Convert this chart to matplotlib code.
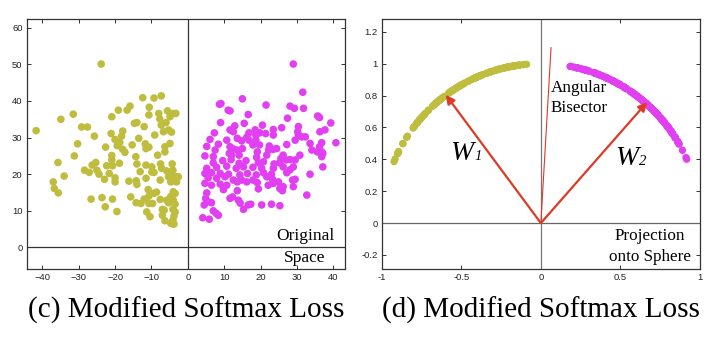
import numpy as np
import matplotlib
matplotlib.use('Agg')
import matplotlib.pyplot as plt

# class 1 (olive) features in original space
c1_x = [-23.8, -41.7, -34.9, -31.5, -35.7, -37.0, -36.7, -35.6, -34.0, -31.2, -30.3, -29.2, -27.6,
        -25.7, -26.6, -28.4, -27.1, -26.3, -25.3, -25.0, -24.4, -23.6, -22.9, -22.7, -22.3, -22.6,
        -21.6, -20.7, -20.9, -21.1, -20.9, -20.9, -20.7, -20.0, -20.0, -19.5, -19.1, -20.0, -19.4,
        -18.7, -18.2, -17.9, -18.8, -17.9, -17.3, -16.7, -15.9, -16.2, -15.7, -15.3, -14.7, -14.0,
        -14.3, -14.0, -14.2, -14.0, -14.2, -13.5, -13.1, -12.9, -12.4, -12.0, -12.0, -11.7, -11.5,
        -11.5, -11.5, -10.9, -10.7, -10.6, -10.7, -10.7, -10.7, -11.3, -10.4, -9.9, -9.9, -9.3,
        -9.3, -9.1, -9.3, -9.7, -8.6, -8.3, -8.0, -7.7, -7.5, -7.3, -7.3, -7.2, -7.6, -7.6, -7.0,
        -7.0, -6.7, -6.3, -6.3, -6.5, -6.3, -6.0, -5.8, -5.8, -5.6, -5.3, -5.3, -5.3, -4.9, -4.9,
        -4.9, -4.7, -4.7, -4.5, -4.3, -4.1, -4.1, -4.1, -4.1, -4.0, -4.0, -4.0, -3.8, -3.8, -3.8,
        -3.3, -3.5, -3.5, -3.1, -3.1, -2.6, -3.5, -4.0, -4.7]
c1_y = [50.1, 31.9, 35.0, 36.4, 23.2, 17.9, 16.1, 14.9, 19.5, 25.0, 28.3, 32.9, 32.9,
        30.4, 13.2, 21.1, 20.5, 22.5, 23.2, 21.1, 20.0, 13.6, 18.6, 11.1, 22.3, 27.4,
        20.2, 13.2, 35.7, 31.1, 25.1, 23.9, 22.3, 19.0, 17.9, 9.8, 37.5, 29.5, 27.8,
        28.7, 30.4, 31.8, 23.0, 26.8, 26.0, 37.5, 38.6, 18.1, 13.8, 28.0, 33.9, 34.1,
        24.8, 22.8, 18.2, 17.2, 12.2, 29.8, 20.7, 12.0, 40.9, 13.2, 33.0, 28.3, 27.0,
        22.5, 18.9, 15.8, 14.0, 38.3, 36.2, 27.4, 12.0, 9.7, 8.4, 22.0, 20.6, 40.8,
        20.5, 30.7, 14.8, 12.0, 15.1, 25.2, 36.6, 35.1, 22.8, 41.4, 33.4, 21.6, 13.1, 18.4, 10.4,
        8.8, 31.6, 27.5, 26.1, 10.2, 7.3, 34.1, 20.9, 12.9, 37.3, 32.1, 19.3, 12.2, 35.7, 28.4,
        20.3, 17.9, 13.9, 31.5, 22.8, 36.6, 21.1, 10.4, 7.5, 19.3, 15.2, 12.9, 18.2, 8.6, 6.4,
        36.6, 14.7, 11.8, 19.3, 17.9, 19.3, 9.7, 6.4, 6.6]

# class 2 (magenta) features in original space
c2_x = [29.0, 31.6, 31.8, 29.3, 28.1, 21.5, 15.0, 8.7, 9.1, 11.1, 11.6, 16.6, 27.4, 35.7, 36.2,
        39.3, 9.0, 15.5, 12.9, 20.5, 23.5, 25.8, 30.4, 37.7, 36.3, 7.3, 11.6, 12.5, 18.5, 16.8,
        19.8, 21.4, 23.5, 30.2, 30.4, 31.3, 6.1, 10.7, 13.6, 16.2, 18.7, 14.8, 18.7, 16.8, 27.2,
        29.5, 32.3, 40.7, 5.2, 8.4, 11.6, 19.7, 17.9, 22.4, 33.6, 36.8, 36.2, 7.5, 12.5, 13.6,
        15.0, 19.1, 22.2, 24.4, 23.5, 34.1, 35.6, 36.8, 4.7, 7.0, 11.4, 12.0, 14.1, 18.9, 21.7,
        25.6, 26.2, 30.8, 36.8, 37.1, 7.0, 9.6, 11.9, 14.1, 16.0, 19.4, 20.8, 23.7, 25.2, 27.0,
        28.1, 29.5, 37.1, 5.2, 7.9, 10.7, 13.3, 15.3, 17.9, 20.3, 23.5, 26.2, 29.0, 4.7, 6.5,
        8.9, 11.2, 14.3, 16.4, 18.8, 20.8, 23.0, 27.2, 28.1, 33.6, 5.6, 7.9, 10.2, 12.5, 13.6,
        14.8, 16.2, 17.9, 19.1, 21.7, 23.3, 24.9, 28.8, 29.5, 4.7, 6.5, 8.9, 10.7, 19.4, 22.1,
        23.5, 25.3, 26.0, 26.2, 29.0, 9.8, 5.2, 13.6, 4.9, 5.6, 6.5, 11.6, 12.3, 13.9, 14.4,
        16.6, 17.3, 20.3, 23.0, 25.3, 32.7, 4.5, 7.0, 7.8, 8.4, 15.3, 4.1, 5.9]
c2_y = [50.1, 42.4, 38.0, 38.0, 38.6, 38.9, 40.6, 39.1, 39.3, 37.5, 37.3, 36.3, 35.3, 35.9, 35.5,
        34.0, 34.1, 33.9, 33.2, 33.4, 32.2, 32.7, 33.0, 32.1, 31.6, 31.3, 32.1, 31.6, 32.1, 31.3,
        31.3, 31.1, 30.7, 31.6, 30.7, 30.2, 29.5, 29.3, 29.8, 30.1, 30.7, 29.1, 29.3, 29.3, 28.1,
        29.3, 30.2, 28.6, 27.6, 28.2, 27.5, 28.0, 28.0, 27.7, 28.4, 28.6, 27.5, 26.6, 26.9, 26.6,
        27.0, 26.1, 26.6, 27.0, 26.8, 26.6, 26.1, 26.1, 25.0, 24.8, 25.7, 25.2, 25.2, 24.6, 25.2,
        24.3, 25.2, 25.2, 24.8, 25.7, 23.1, 23.7, 24.0, 23.0, 23.7, 23.1, 23.4, 22.8, 23.1, 23.9,
        24.0, 23.9, 22.0, 21.6, 21.9, 22.2, 21.6, 22.0, 21.9, 21.6, 21.6, 22.0, 22.0, 20.2, 20.4,
        20.2, 20.0, 19.8, 20.2, 19.8, 20.4, 20.0, 20.4, 21.2, 20.0, 19.0, 18.9, 19.3, 18.4, 17.9,
        18.4, 17.9, 18.4, 17.7, 19.3, 18.6, 17.9, 18.4, 18.6, 17.5, 17.0, 17.3, 17.0, 16.0, 17.0,
        17.5, 16.1, 15.5, 16.6, 16.6, 15.8, 14.9, 15.5, 13.4, 12.5, 12.2, 13.4, 13.8, 12.9, 12.1,
        11.6, 11.8, 11.6, 11.8, 11.4, 14.3, 11.6, 10.0, 9.3, 8.8, 10.4, 8.1, 7.7]

# weight vectors and bisector end
w1 = (-0.598, 0.805)
w2 = (0.668, 0.759)
bisector = (0.064, 1.10)

left_xticks = [-40, -30, -20, -10, 0, 10, 20, 30, 40]
left_yticks = [0, 10, 20, 30, 40, 50, 60]
right_xticks = [-1, -0.5, 0, 0.5, 1]
right_xlabels = ['-1', '-0.5', '0', '0.5', '1']
right_yticks = [-0.2, 0, 0.2, 0.4, 0.6, 0.8, 1, 1.2]
right_ylabels = ['-0.2', '0', '0.2', '0.4', '0.6', '0.8', '1', '1.2']

olive = '#bfbd3e'
magenta = '#e23ef2'
red = '#dc3b28'
serif = 'Liberation Serif'

# projection onto the unit circle
c1 = np.array([c1_x, c1_y])
c2 = np.array([c2_x, c2_y])
p1 = c1 / np.hypot(c1[0], c1[1])
p2 = c2 / np.hypot(c2[0], c2[1])

plt.rcParams['font.family'] = 'Liberation Sans'

fig = plt.figure(figsize=(7.19, 3.43), dpi=100)
ax1 = fig.add_axes([0.0371, 0.2157, 0.4427, 0.7289])
ax2 = fig.add_axes([0.5309, 0.2157, 0.4427, 0.7289])


def style(ax):
    for s in ax.spines.values():
        s.set_color('#333333')
        s.set_linewidth(0.9)
    ax.tick_params(direction='in', length=3, width=0.7, colors='#333333',
                   labelsize=6.8, labelcolor='#222222',
                   top=True, right=True, pad=3)


# (c) original space
ax1.scatter(c1_x, c1_y, s=30, color=olive, edgecolors='none', zorder=3)
ax1.scatter(c2_x, c2_y, s=30, color=magenta, edgecolors='none', zorder=3)
ax1.axhline(0, color='#333333', lw=0.9, zorder=2)
ax1.axvline(0, color='#333333', lw=0.9, zorder=2)
ax1.set_xlim(-44.3, 43.2)
ax1.set_ylim(-5.9, 62.4)
ax1.set_xticks(left_xticks)
ax1.set_yticks(left_yticks)
style(ax1)
ax1.text(32.2, 2.0, 'Original', family=serif, fontsize=12.5, ha='center', va='baseline')
ax1.text(32.2, -3.9, 'Space', family=serif, fontsize=12.5, ha='center', va='baseline')

# (d) projection onto sphere
ax2.scatter(p1[0], p1[1], s=28, color=olive, edgecolors='none', zorder=3)
ax2.scatter(p2[0], p2[1], s=28, color=magenta, edgecolors='none', zorder=3)
ax2.axhline(0, color='#666666', lw=0.9, zorder=2)
ax2.axvline(0, color='#777777', lw=0.9, zorder=2)
for tip in (w1, w2):
    ax2.annotate('', xy=tip, xytext=(0, 0),
                 arrowprops=dict(arrowstyle='-|>', color=red, lw=1.6,
                                 mutation_scale=13, shrinkA=0, shrinkB=0), zorder=4)
ax2.plot([0, bisector[0]], [0, bisector[1]], color=red, lw=0.8, zorder=4)
ax2.set_xlim(-1, 1)
ax2.set_ylim(-0.288, 1.28)
ax2.set_xticks(right_xticks)
ax2.set_xticklabels(right_xlabels)
ax2.set_yticks(right_yticks)
ax2.set_yticklabels(right_ylabels)
style(ax2)
ax2.text(0.063, 0.82, 'Angular', family=serif, fontsize=12.3, ha='left', va='baseline')
ax2.text(0.063, 0.696, 'Bisector', family=serif, fontsize=12.3, ha='left', va='baseline')
ax2.text(0.683, -0.108, 'Projection', family=serif, fontsize=12.3, ha='center', va='baseline')
ax2.text(0.683, -0.238, 'onto Sphere', family=serif, fontsize=12.3, ha='center', va='baseline')
for (wx, wy), sub in (((-0.568, 0.398), '1'), ((0.469, 0.366), '2')):
    ax2.text(wx, wy, 'W', family=serif, style='italic', fontsize=20, ha='left', va='baseline')
    ax2.annotate(sub, xy=(wx, wy), xytext=(17, 0), textcoords='offset points',
                 family=serif, style='italic', fontsize=10.5, ha='left', va='baseline')

# captions
fig.text(0.2585, 0.073, '(c) Modified Softmax Loss', family=serif, fontsize=21,
         ha='center', va='baseline')
fig.text(0.7523, 0.073, '(d) Modified Softmax Loss', family=serif, fontsize=21,
         ha='center', va='baseline')

fig.savefig('out.png', dpi=100)
